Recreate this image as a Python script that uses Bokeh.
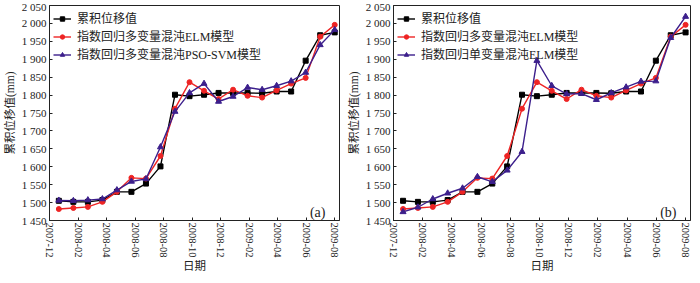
from bokeh.plotting import figure
from bokeh.layouts import row
from bokeh.models import Range1d, FixedTicker, Legend, LegendItem, Label
from bokeh.embed import file_html
from bokeh.resources import INLINE

# ---- data (monthly, 2008-01 .. 2009-08) ----
months = ["2008-01", "2008-02", "2008-03", "2008-04", "2008-05", "2008-06", "2008-07",
          "2008-08", "2008-09", "2008-10", "2008-11", "2008-12", "2009-01", "2009-02",
          "2009-03", "2009-04", "2009-05", "2009-06", "2009-07", "2009-08"]
measured = [1505, 1502, 1502, 1507, 1530, 1530, 1553, 1601, 1801, 1797,
            1801, 1806, 1806, 1806, 1805, 1810, 1810, 1896, 1967, 1975]
elm_multi = [1482, 1485, 1488, 1502, 1530, 1569, 1567, 1630, 1762, 1836,
             1812, 1789, 1815, 1798, 1793, 1813, 1832, 1848, 1963, 1996]
pso_svm = [1506, 1505, 1507, 1510, 1535, 1559, 1566, 1655, 1754, 1806,
           1832, 1782, 1796, 1821, 1815, 1826, 1839, 1863, 1940, 1982]
elm_uni = [1474, 1487, 1510, 1526, 1540, 1572, 1558, 1590, 1642, 1896,
           1826, 1803, 1804, 1787, 1806, 1822, 1838, 1839, 1960, 2019]

x_tick_labels = ["2007-12", "2008-02", "2008-04", "2008-06", "2008-08", "2008-10",
                 "2008-12", "2009-02", "2009-04", "2009-06", "2009-08"]
y_ticks = list(range(1450, 2051, 50))

label_measured = "累积位移值"
label_multi = "指数回归多变量混沌ELM模型"
label_pso = "指数回归多变量混沌PSO-SVM模型"
label_uni = "指数回归单变量混沌ELM模型"
x_title = "日期"
y_title = "累积位移值(mm)"

# axis calibration (tick positions expressed in data-index units)
TICK_START = -0.643
TICK_STEP = 1.964
X_END = 19.33
Y_START, Y_END = 1450, 2050

SERIF = "Liberation Serif"
MIXED = "'Liberation Serif', 'Noto Sans CJK SC'"
BLACK = "#000000"
RED = "#ee2424"
PURPLE = "#3c1f8c"
INK = "#222222"

xs = list(range(len(months)))
tick_pos = [TICK_START + k * TICK_STEP for k in range(len(x_tick_labels))]


def make_panel(third_label, third_values, tag, width, left, right):
    p = figure(width=width, height=275, output_backend="svg", toolbar_location=None,
               x_range=Range1d(TICK_START, X_END), y_range=Range1d(Y_START, Y_END),
               min_border_left=left, min_border_right=right,
               min_border_top=5, min_border_bottom=52)
    p.grid.visible = False
    p.outline_line_color = INK
    p.outline_line_width = 1
    p.background_fill_color = "white"
    p.border_fill_color = "white"

    r1l = p.line(xs, measured, color=BLACK, line_width=1.4)
    r1s = p.scatter(xs, measured, marker="square", size=5, color=BLACK)
    r2l = p.line(xs, elm_multi, color=RED, line_width=1.4)
    r2s = p.scatter(xs, elm_multi, marker="circle", size=5, color=RED)
    r3l = p.line(xs, third_values, color=PURPLE, line_width=1.4)
    r3s = p.scatter(xs, third_values, marker="triangle", size=6, color=PURPLE)

    # axes
    p.xaxis.ticker = FixedTicker(ticks=tick_pos)
    p.xaxis.major_label_overrides = {t: l for t, l in zip(tick_pos, x_tick_labels)}
    p.xaxis.major_label_orientation = "vertical"
    p.yaxis.ticker = FixedTicker(ticks=y_ticks)
    p.yaxis.major_label_overrides = {v: f"{v // 1000} {v % 1000:03d}" for v in y_ticks}
    for ax in (p.xaxis, p.yaxis):
        ax.minor_tick_line_color = None
        ax.major_tick_in = 3
        ax.major_tick_out = 0
        ax.axis_line_color = INK
        ax.major_tick_line_color = INK
        ax.major_label_text_font = SERIF
        ax.major_label_text_color = INK
        ax.axis_label_text_font = MIXED
        ax.axis_label_text_font_style = "normal"
        ax.axis_label_text_color = INK
        ax.axis_label_text_font_size = "11.5px"
    p.xaxis.major_label_text_font_size = "10.5px"
    p.yaxis.major_label_text_font_size = "11px"
    p.xaxis.major_label_standoff = 2
    p.yaxis.major_label_standoff = 3
    p.xaxis.axis_label = x_title
    p.xaxis.axis_label_standoff = 0
    p.yaxis.axis_label = y_title
    p.yaxis.axis_label_standoff = 3

    legend = Legend(items=[
        LegendItem(label=label_measured, renderers=[r1l, r1s]),
        LegendItem(label=label_multi, renderers=[r2l, r2s]),
        LegendItem(label=third_label, renderers=[r3l, r3s]),
    ], location="top_left")
    legend.border_line_color = None
    legend.background_fill_alpha = 0
    legend.margin = 4
    legend.padding = 4
    legend.spacing = 0
    legend.glyph_width = 18
    legend.glyph_height = 11
    legend.label_height = 11
    legend.label_standoff = 6
    legend.label_text_font = MIXED
    legend.label_text_font_size = "12px"
    legend.label_text_color = INK
    p.add_layout(legend)

    p.add_layout(Label(x=X_END, y=Y_START, x_offset=-14, y_offset=8, text=tag,
                       text_align="right", text_baseline="alphabetic",
                       text_font=SERIF, text_font_size="14px", text_color=INK))
    return p


pa = make_panel(label_pso, pso_svm, "(a)", 342, 48, 3)
pb = make_panel(label_uni, elm_uni, "(b)", 350, 51, 2)

layout = row(pa, pb, spacing=0)
open("out.html", "w").write(file_html(layout, INLINE))
